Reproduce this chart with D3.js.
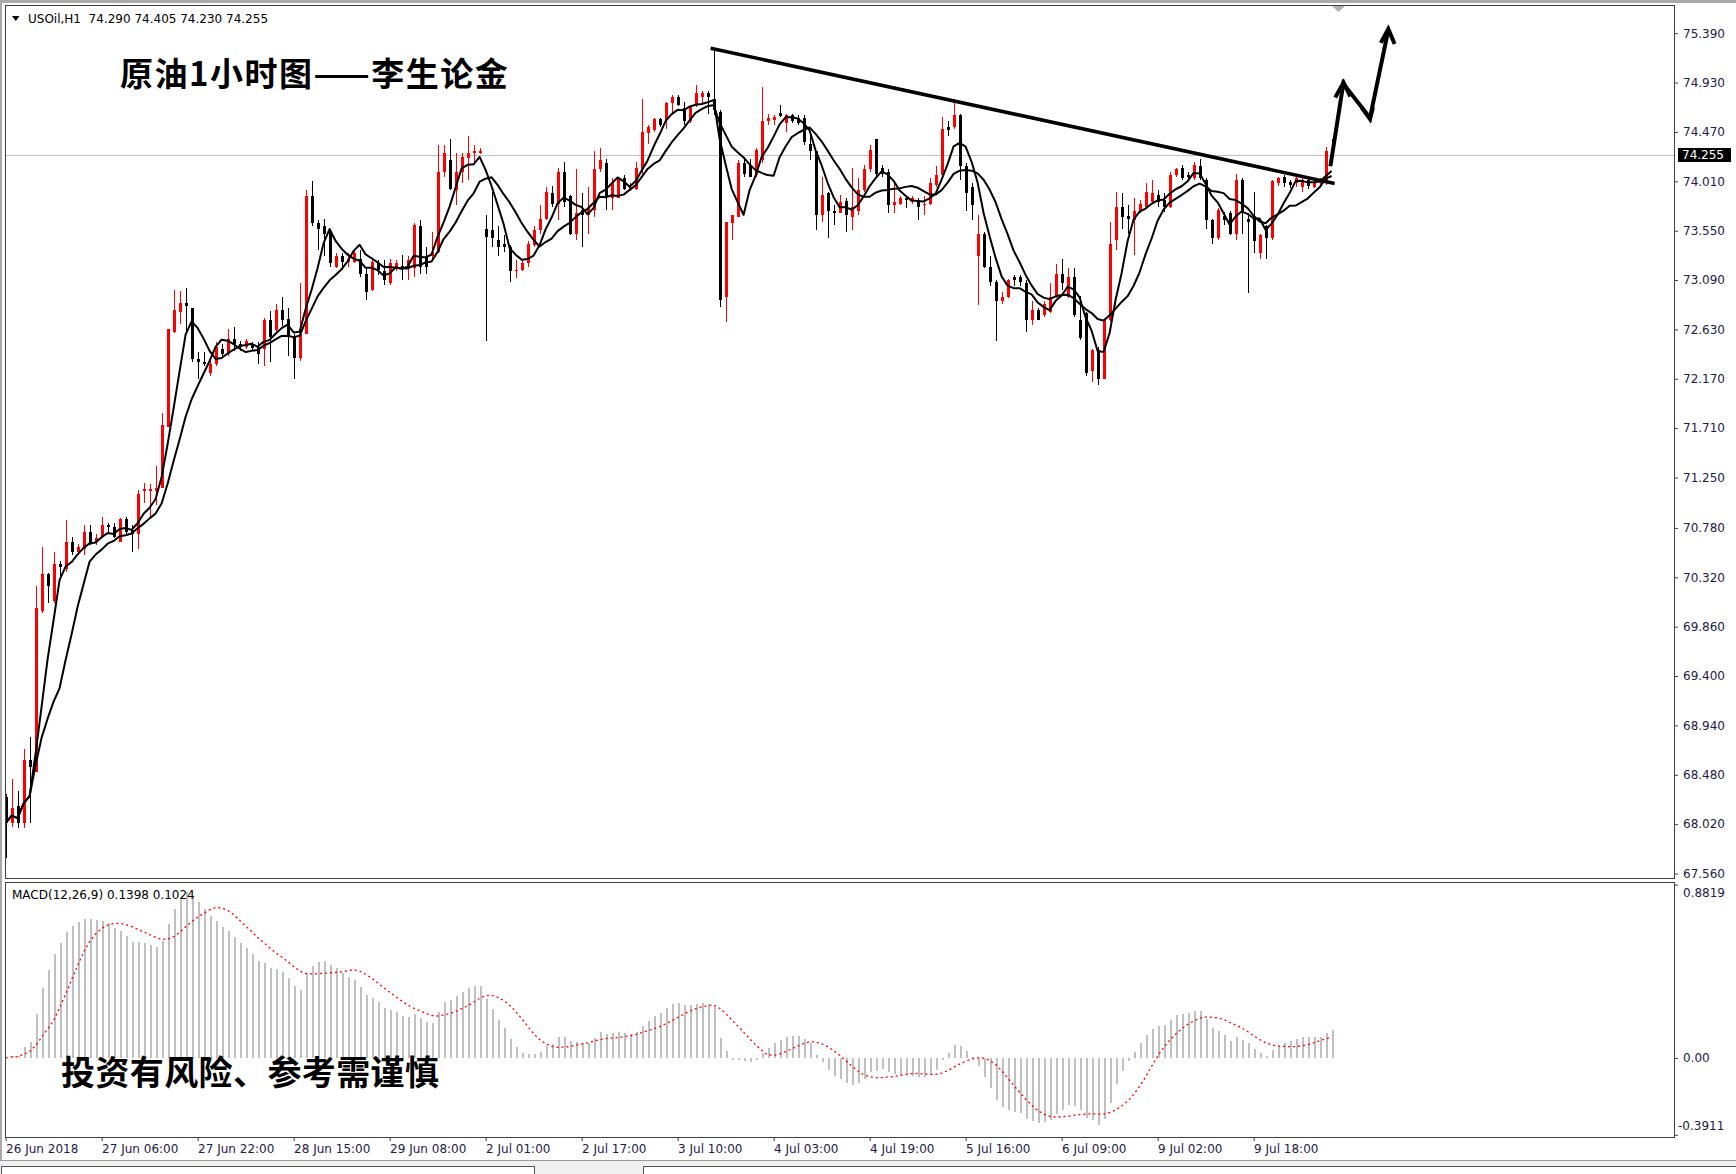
<!DOCTYPE html>
<html><head><meta charset="utf-8">
<script src="https://cdn.jsdelivr.net/npm/d3@7"></script>
<style>
html,body{margin:0;padding:0;background:#fff;}
svg{display:block;}
</style></head><body>
<svg id="chart" width="1736" height="1174"></svg>
<script>
// ---------------- DATA ----------------
const symbolHeader = "USOil,H1  74.290 74.405 74.230 74.255";
const chartTitle = "原油1小时图——李生论金";
const disclaimer = "投资有风险、参考需谨慎";
const macdHeader = "MACD(12,26,9) 0.1398 0.1024";
const lastPrice = 74.255;

const opens = [
68.27,68.03,68.19,68.03,68.62,68.51,70.01,70.35,70.10,70.44,
70.40,70.65,70.56,70.58,70.74,70.65,70.70,70.81,70.79,70.65,
70.86,70.76,70.72,71.12,71.12,71.12,71.15,71.72,72.61,72.79,
72.88,72.83,72.35,72.33,72.22,72.31,72.45,72.40,72.54,72.49,
72.47,72.49,72.47,72.45,72.72,72.62,72.81,72.73,72.56,72.36,
72.59,73.87,73.62,73.59,73.54,73.21,73.31,73.26,73.26,73.29,
73.15,73.00,73.25,73.17,73.06,73.20,73.22,73.20,73.20,73.59,
73.31,73.31,73.35,74.10,74.21,73.93,74.10,74.23,74.27,74.27,
73.57,73.56,73.46,73.43,73.40,73.17,73.18,73.25,73.42,73.56,
73.66,73.90,73.80,74.10,73.87,73.52,73.74,73.70,73.74,74.12,
74.18,73.85,73.85,74.04,73.94,73.94,74.12,74.46,74.49,74.59,
74.58,74.74,74.80,74.69,74.57,74.72,74.80,74.83,74.78,74.66,
72.93,73.62,73.68,74.18,74.16,74.07,74.21,74.57,74.58,74.65,
74.55,74.63,74.60,74.60,74.36,74.29,73.70,73.90,73.73,73.71,
73.83,73.68,73.73,73.93,74.12,74.40,74.13,74.10,73.79,73.80,
73.85,73.82,73.84,73.79,73.80,73.98,74.07,74.52,74.52,74.63,
74.15,73.96,73.31,73.52,73.21,73.07,72.89,72.93,73.12,73.12,
73.06,72.72,72.81,72.76,72.79,72.93,73.15,72.93,73.12,72.72,
72.78,72.24,72.44,72.17,72.72,73.46,73.77,73.69,73.65,73.73,
73.77,73.82,73.88,73.84,73.77,74.07,74.13,74.07,74.04,74.15,
74.02,73.65,73.48,73.69,73.71,73.52,74.02,73.66,73.66,73.34,
73.59,73.48,73.99,74.05,74.00,73.99,73.96,74.02,73.96,73.99,
74.00,74.29];
const highs = [
68.30,68.44,68.33,68.72,68.83,70.24,70.60,70.36,70.56,70.47,
70.85,70.70,70.63,70.81,70.81,70.72,70.88,70.83,70.83,70.87,
70.88,70.81,71.13,71.20,71.19,71.36,71.85,72.63,73.00,72.99,
73.02,72.83,72.42,72.42,72.35,72.51,72.49,72.63,72.65,72.52,
72.54,72.51,72.51,72.74,72.80,72.87,72.93,72.83,72.59,73.06,
73.93,74.01,73.65,73.66,73.57,73.34,73.34,73.34,73.36,73.37,
73.20,73.28,73.28,73.28,73.29,73.28,73.32,73.31,73.62,73.65,
73.40,73.54,74.35,74.35,74.40,74.27,74.27,74.43,74.35,74.32,
73.70,73.91,73.59,73.51,73.42,73.28,73.28,73.45,73.59,73.79,
73.96,73.97,74.13,74.19,73.88,74.12,73.90,73.96,74.29,74.32,
74.22,74.04,74.05,74.07,73.99,74.19,74.78,74.53,74.60,74.60,
74.75,74.81,74.81,74.75,74.72,74.91,74.85,74.85,75.25,74.67,
73.63,73.70,74.21,74.24,74.22,74.32,74.89,74.64,74.63,74.72,
74.64,74.64,74.63,74.63,74.46,74.29,74.05,73.91,73.79,73.88,
73.85,74.13,74.04,74.16,74.35,74.40,74.16,74.12,73.99,73.87,
73.87,73.87,73.85,73.87,74.04,74.15,74.61,74.57,74.78,74.64,
74.18,73.99,73.70,73.54,73.31,73.09,72.98,73.10,73.14,73.14,
73.09,72.89,72.83,72.89,73.06,73.24,73.29,73.20,73.20,72.94,
72.79,72.45,72.47,72.73,73.63,73.91,73.90,73.79,73.85,73.84,
73.99,74.02,73.93,73.90,74.10,74.13,74.16,74.10,74.19,74.22,
74.04,73.66,73.76,73.72,73.73,74.08,74.04,73.71,73.91,73.52,
73.60,74.02,74.05,74.07,74.02,74.06,74.07,74.05,74.02,74.04,
74.33,74.405];
const lows = [
67.70,67.99,67.98,67.98,68.03,68.51,69.99,70.08,70.08,70.33,
70.37,70.53,70.53,70.53,70.62,70.62,70.69,70.72,70.69,70.65,
70.72,70.56,70.58,71.01,70.88,70.99,71.15,71.72,72.60,72.68,
72.59,72.33,72.17,72.29,72.20,72.29,72.38,72.38,72.43,72.43,
72.45,72.43,72.31,72.29,72.33,72.59,72.66,72.38,72.17,72.34,
72.59,73.59,73.37,73.31,73.21,73.20,73.18,73.21,73.25,73.12,
72.90,72.99,73.14,73.04,73.04,73.17,73.09,73.09,73.12,73.15,
73.15,73.29,73.34,74.05,73.93,73.79,73.99,74.02,74.19,74.26,
72.52,73.40,73.31,73.35,73.07,73.11,73.17,73.21,73.40,73.52,
73.65,73.77,73.65,73.77,73.51,73.46,73.40,73.52,73.68,74.10,
73.74,73.74,73.85,73.93,73.92,73.93,74.08,74.36,74.47,74.52,
74.50,74.63,74.71,74.53,74.55,74.70,74.72,74.64,74.63,72.84,
72.70,73.46,73.68,74.05,74.05,74.05,74.18,74.53,74.53,74.61,
74.47,74.55,74.53,74.35,74.21,73.56,73.63,73.48,73.60,73.71,
73.54,73.56,73.70,73.91,74.10,74.05,74.05,73.71,73.71,73.79,
73.76,73.80,73.65,73.70,73.79,73.96,74.05,74.43,74.50,74.02,
73.73,73.65,72.86,73.20,73.03,72.52,72.87,72.92,73.03,73.03,
72.61,72.67,72.72,72.75,72.78,72.92,73.00,72.92,72.75,72.53,
72.20,72.14,72.11,72.17,72.70,73.37,73.57,73.52,73.32,73.71,
73.76,73.80,73.77,73.72,73.76,74.05,74.02,74.02,74.02,74.02,
73.57,73.43,73.46,73.60,73.51,73.46,73.52,72.97,73.34,73.29,
73.29,73.46,73.97,73.96,73.95,73.96,73.91,73.94,73.95,73.97,
73.98,74.23];
const closes = [
68.03,68.17,68.03,68.62,68.55,70.03,70.35,70.24,70.44,70.42,
70.65,70.56,70.60,70.74,70.63,70.69,70.81,70.79,70.70,70.86,
70.74,70.72,71.10,71.14,71.14,71.15,71.74,72.63,72.81,72.88,
72.85,72.35,72.33,72.31,72.31,72.47,72.40,72.54,72.49,72.47,
72.52,72.46,72.40,72.72,72.56,72.81,72.72,72.56,72.36,72.59,
73.87,73.62,73.57,73.52,73.25,73.31,73.26,73.29,73.34,73.15,
72.98,73.26,73.18,73.09,73.25,73.25,73.20,73.28,73.60,73.21,
73.21,73.35,74.10,74.27,73.94,74.10,74.24,74.27,74.29,74.29,
73.49,73.48,73.40,73.40,73.17,73.18,73.25,73.43,73.56,73.66,
73.91,73.80,74.10,73.82,73.52,73.71,73.70,73.76,74.12,74.21,
73.87,73.99,74.04,73.94,73.96,74.13,74.47,74.52,74.59,74.53,
74.74,74.80,74.72,74.57,74.70,74.83,74.83,74.80,74.67,72.90,
73.63,73.70,74.18,74.08,74.05,74.30,74.57,74.60,74.61,74.62,
74.63,74.57,74.55,74.38,74.29,73.70,73.88,73.73,73.71,73.82,
73.70,73.77,73.93,74.12,74.30,74.08,74.08,73.79,73.82,73.85,
73.84,73.85,73.77,73.80,73.99,74.07,74.50,74.49,74.63,74.15,
73.90,73.79,73.52,73.21,73.07,72.89,72.93,73.09,73.09,73.07,
72.72,72.81,72.72,72.87,72.93,73.15,73.06,73.12,72.76,72.55,
72.22,72.44,72.17,72.72,73.43,73.77,73.68,73.66,73.73,73.80,
73.91,73.90,73.82,73.77,74.07,74.12,74.04,74.05,74.16,74.04,
73.65,73.48,73.74,73.65,73.52,74.02,73.71,73.63,73.45,73.51,
73.48,74.01,74.04,73.99,73.98,74.04,74.02,73.97,73.99,74.02,
74.29,74.255];

const priceTicks = [75.390,74.930,74.470,74.010,73.550,73.090,72.630,72.170,71.710,
                    71.250,70.780,70.320,69.860,69.400,68.940,68.480,68.020,67.560];
const timeLabelBars = [0,16,32,48,64,80,96,112,128,144,160,176,192,208];
const timeLabels = ["26 Jun 2018","27 Jun 06:00","27 Jun 22:00","28 Jun 15:00","29 Jun 08:00",
                    "2 Jul 01:00","2 Jul 17:00","3 Jul 10:00","4 Jul 03:00","4 Jul 19:00",
                    "5 Jul 16:00","6 Jul 09:00","9 Jul 02:00","9 Jul 18:00"];
const macdTickValues = [0.8819, 0, -0.3911];
const macdTickLabels = ["0.8819","0.00","-0.3911"];
const maPeriods = [5, 10];
// hand-drawn annotations, in (bar index, price)
const trendLine = [[117.5, 75.25], [221.5, 73.99]];
const arrowPath = [[220.8, 74.15], [222.95, 74.92], [227.4, 74.60], [230.45, 75.42]];
const arrowHeads = [
  [[221.6, 74.79], [223.0, 74.93], [224.1, 74.80]],
  [[226.0, 74.70], [227.4, 74.59], [227.9, 74.70]],
  [[229.2, 75.30], [230.45, 75.43], [231.5, 75.29]]
];

// ---------------- DERIVED INDICATORS ----------------
function sma(arr, n) {
  return arr.map((v, i) => d3.mean(arr.slice(Math.max(0, i - n + 1), i + 1)));
}
function ema(arr, n) {
  const k = 2 / (n + 1); let prev = arr[0];
  return arr.map((v, i) => (prev = i === 0 ? v : v * k + prev * (1 - k)));
}
const e12 = ema(closes, 12), e26 = ema(closes, 26);
const macd = e12.map((v, i) => v - e26[i]);
const signal = sma(macd, 9);

// ---------------- LAYOUT ----------------
const W = 1736, H = 1174;
const main = {x0: 5, x1: 1674, y0: 5, y1: 878};
const sub  = {x0: 5, x1: 1674, y0: 882, y1: 1137};

const xs = d3.scaleLinear().domain([0, 208]).range([5.6, 1253.6]);
const ys = d3.scaleLinear().domain([67.56, 75.39]).range([873.5, 33.2]);
const ym = d3.scaleLinear().domain([-0.3911, 0.8819]).range([1134.8, 884.6]);

const svg = d3.select('#chart');
svg.append('rect').attr('width', W).attr('height', H).attr('fill', '#fff');

const defs = svg.append('defs');
defs.append('clipPath').attr('id', 'clipMain').append('rect')
  .attr('x', main.x0 + 1).attr('y', main.y0 + 1)
  .attr('width', main.x1 - main.x0 - 1).attr('height', main.y1 - main.y0 - 1);
defs.append('clipPath').attr('id', 'clipSub').append('rect')
  .attr('x', sub.x0 + 1).attr('y', sub.y0 + 1)
  .attr('width', sub.x1 - sub.x0 - 1).attr('height', sub.y1 - sub.y0 - 1);

// window chrome
svg.append('rect').attr('x', 0).attr('y', 0).attr('width', W).attr('height', 3).attr('fill', '#a9a9a9');
svg.append('rect').attr('x', 0).attr('y', 0).attr('width', 2).attr('height', 1160).attr('fill', '#a9a9a9');
svg.append('rect').attr('x', 0).attr('y', 1160).attr('width', W).attr('height', 14).attr('fill', '#f0f0f0');
svg.append('line').attr('x1', 0).attr('x2', W).attr('y1', 1160.5).attr('y2', 1160.5).attr('stroke', '#9a9a9a');
svg.append('rect').attr('x', 1.5).attr('y', 1166.5).attr('width', 533).attr('height', 10)
  .attr('fill', '#fff').attr('stroke', '#555');
svg.append('rect').attr('x', 643.5).attr('y', 1166.5).attr('width', 1100).attr('height', 10)
  .attr('fill', '#fff').attr('stroke', '#555');

// panel frames
[main, sub].forEach(p => {
  svg.append('rect').attr('x', p.x0 + 0.5).attr('y', p.y0 + 0.5)
    .attr('width', p.x1 - p.x0).attr('height', p.y1 - p.y0)
    .attr('fill', 'none').attr('stroke', '#404040').attr('shape-rendering', 'crispEdges');
});

// chart-shift marker
svg.append('path').attr('d', 'M1332,6 L1345,6 L1338.5,12 Z').attr('fill', '#b0b0b0');

// ---------------- MAIN PANEL ----------------
const gm = svg.append('g').attr('clip-path', 'url(#clipMain)');
gm.append('line').attr('x1', main.x0).attr('x2', main.x1)
  .attr('y1', Math.round(ys(lastPrice)) + 0.5).attr('y2', Math.round(ys(lastPrice)) + 0.5)
  .attr('stroke', '#c0c0c0');

const idx = d3.range(closes.length);
const col = i => closes[i] >= opens[i] ? '#ff0000' : '#000000';
const gc = gm.append('g').attr('shape-rendering', 'crispEdges');
gc.selectAll('line.wick').data(idx).join('line').attr('class', 'wick')
  .attr('x1', i => Math.round(xs(i)) + 0.5).attr('x2', i => Math.round(xs(i)) + 0.5)
  .attr('y1', i => ys(highs[i])).attr('y2', i => ys(lows[i]))
  .attr('stroke', col).attr('stroke-width', 1);
gc.selectAll('rect.body').data(idx).join('rect').attr('class', 'body')
  .attr('x', i => Math.round(xs(i)) - 1).attr('width', 3)
  .attr('y', i => ys(Math.max(opens[i], closes[i])))
  .attr('height', i => Math.max(1, Math.abs(ys(opens[i]) - ys(closes[i]))))
  .attr('fill', col);

const lineGen = d3.line().x((d, i) => xs(i)).y(d => ys(d));
maPeriods.forEach(n => {
  gm.append('path').datum(sma(closes, n)).attr('d', lineGen)
    .attr('fill', 'none').attr('stroke', '#000').attr('stroke-width', 2)
    .attr('stroke-linejoin', 'round');
});

const ptLine = d3.line().x(d => xs(d[0])).y(d => ys(d[1]));
gm.append('path').datum(trendLine).attr('d', ptLine)
  .attr('fill', 'none').attr('stroke', '#000').attr('stroke-width', 3.5);
gm.append('path').datum(arrowPath).attr('d', ptLine)
  .attr('fill', 'none').attr('stroke', '#000').attr('stroke-width', 4)
  .attr('stroke-linejoin', 'miter');
arrowHeads.forEach(h => {
  gm.append('path').datum(h).attr('d', ptLine)
    .attr('fill', 'none').attr('stroke', '#000').attr('stroke-width', 4)
    .attr('stroke-linejoin', 'miter');
});

// header
svg.append('path').attr('d', 'M12,16 L19.5,16 L15.75,21 Z').attr('fill', '#000');
svg.append('text').attr('x', 28).attr('y', 19).attr('dominant-baseline', 'central')
  .attr('font-family', 'DejaVu Sans').attr('font-size', 12).attr('fill', '#000')
  .style('white-space', 'pre').text(symbolHeader);

svg.append('text').attr('x', 120).attr('y', 72).attr('dominant-baseline', 'central')
  .attr('font-family', '"Noto Sans CJK SC"').attr('font-weight', 700)
  .attr('font-size', 33).attr('letter-spacing', 1.5).attr('fill', '#000').text(chartTitle);

// price axis
const gy = svg.append('g').attr('transform', `translate(${main.x1},0)`)
  .call(d3.axisRight(ys).tickValues(priceTicks).tickFormat(d3.format('.3f')).tickSize(4).tickPadding(5));
gy.select('.domain').remove();
gy.selectAll('line').attr('stroke', '#404040');
gy.selectAll('text').attr('font-family', 'DejaVu Sans').attr('font-size', 12).attr('fill', '#1e2046');

// last price box
const lpY = Math.round(ys(lastPrice));
svg.append('rect').attr('x', 1678).attr('y', lpY - 7).attr('width', 53).attr('height', 14).attr('fill', '#000');
svg.append('text').attr('x', 1682).attr('y', lpY).attr('dominant-baseline', 'central')
  .attr('font-family', 'DejaVu Sans').attr('font-size', 12).attr('fill', '#fff').text(d3.format('.3f')(lastPrice));

// ---------------- MACD PANEL ----------------
const gs = svg.append('g').attr('clip-path', 'url(#clipSub)');
gs.append('g').attr('shape-rendering', 'crispEdges').selectAll('line').data(idx).join('line')
  .attr('x1', i => Math.round(xs(i)) + 0.5).attr('x2', i => Math.round(xs(i)) + 0.5)
  .attr('y1', ym(0)).attr('y2', i => ym(macd[i]))
  .attr('stroke', '#c0c0c0').attr('stroke-width', 2);
gs.append('path').datum(signal)
  .attr('d', d3.line().x((d, i) => xs(i)).y(d => ym(d)))
  .attr('fill', 'none').attr('stroke', '#ff0000').attr('stroke-width', 1.3)
  .attr('stroke-dasharray', '2,3');

svg.append('text').attr('x', 12).attr('y', 895).attr('dominant-baseline', 'central')
  .attr('font-family', 'DejaVu Sans').attr('font-size', 12).attr('fill', '#000').text(macdHeader);

svg.append('text').attr('x', 61).attr('y', 1070).attr('dominant-baseline', 'central')
  .attr('font-family', '"Noto Sans CJK SC"').attr('font-weight', 700)
  .attr('font-size', 34).attr('letter-spacing', 0.4).attr('fill', '#000').text(disclaimer);

const gmy = svg.append('g').attr('transform', `translate(${sub.x1},0)`)
  .call(d3.axisRight(ym).tickValues(macdTickValues).tickFormat((d, i) => macdTickLabels[i]).tickSize(4).tickPadding(5));
gmy.select('.domain').remove();
gmy.selectAll('line').attr('stroke', '#404040');
gmy.selectAll('text').attr('font-family', 'DejaVu Sans').attr('font-size', 12).attr('fill', '#1e2046')
  .attr('dy', (d) => d > 0.5 ? '1.0em' : (d < -0.2 ? '-0.45em' : '0.32em'))
  .attr('x', d => d < -0.2 ? 4 : 9);

// time axis
const gx = svg.append('g').attr('transform', `translate(0,${sub.y1})`)
  .call(d3.axisBottom(xs).tickValues(timeLabelBars).tickFormat((d, i) => timeLabels[i]).tickSize(4).tickPadding(3));
gx.select('.domain').remove();
gx.selectAll('line').attr('stroke', '#404040');
gx.selectAll('text').attr('text-anchor', 'start').attr('x', 0)
  .attr('font-family', 'DejaVu Sans').attr('font-size', 12).attr('fill', '#1e2046');
</script>
</body></html>
